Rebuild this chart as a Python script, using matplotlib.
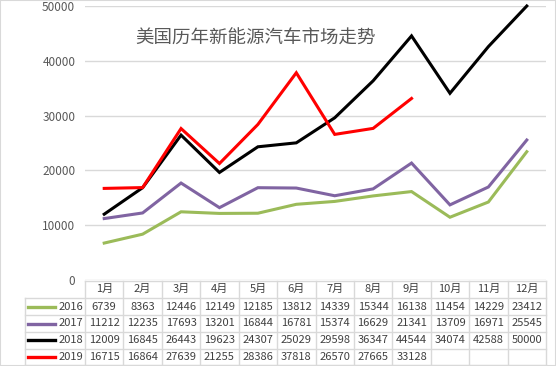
import matplotlib
matplotlib.use("Agg")
import matplotlib.pyplot as plt
from matplotlib.lines import Line2D
from matplotlib.patches import Rectangle

plt.rcParams['font.family'] = ['Noto Sans CJK SC', 'DejaVu Sans']

months = ["1月", "2月", "3月", "4月", "5月", "6月", "7月", "8月", "9月", "10月", "11月", "12月"]
years = ["2016", "2017", "2018", "2019"]
s2016 = [6739, 8363, 12446, 12149, 12185, 13812, 14339, 15344, 16138, 11454, 14229, 23412]
s2017 = [11212, 12235, 17693, 13201, 16844, 16781, 15374, 16629, 21341, 13709, 16971, 25545]
s2018 = [12009, 16845, 26443, 19623, 24307, 25029, 29598, 36347, 44544, 34074, 42588, 50000]
s2019 = [16715, 16864, 27639, 21255, 28386, 37818, 26570, 27665, 33128]
series = [s2016, s2017, s2018, s2019]
colors = ["#9BBB59", "#8064A2", "#000000", "#FF0000"]
title = "美国历年新能源汽车市场走势"
yticks = [0, 10000, 20000, 30000, 40000, 50000]

W, H = 556, 366
fig = plt.figure(figsize=(W / 100, H / 100), dpi=100)

def fx(px):
    return px / W

def fy(py):
    return 1 - py / H

# plot area
left, right, top, bottom = 85, 546, 6, 280
ax = fig.add_axes([fx(left), fy(bottom), fx(right - left), (bottom - top) / H])
ax.set_xlim(0.5, 12.5)
ax.set_ylim(0, 50000)
ax.set_yticks(yticks)
ax.set_yticklabels([str(v) for v in yticks], fontsize=8.5, color="#595959")
ax.set_xticks([])
ax.tick_params(axis='y', length=0, pad=7)
for s in ax.spines.values():
    s.set_visible(False)
ax.grid(axis='y', color="#D9D9D9", linewidth=1)
ax.set_axisbelow(True)
for vals, c in zip(series, colors):
    ax.plot(range(1, len(vals) + 1), vals, color=c, linewidth=2.2,
            solid_joinstyle='miter', clip_on=False)
ax.text(0.37, 0.88, title, transform=ax.transAxes, ha='center', va='center',
        fontsize=13.3, color="#595959")

# data table
tab = fig.add_axes([0, 0, 1, 1])
tab.set_xlim(0, W)
tab.set_ylim(H, 0)
tab.axis('off')
colw = (right - left) / 12
row_y = [280.5, 298, 315, 332, 348.5, 364.5]
grid_c = "#D9D9D9"
# horizontal lines
tab.plot([left, right], [row_y[0], row_y[0]], color=grid_c, lw=1)
for y in row_y[1:]:
    tab.plot([25, right], [y, y], color=grid_c, lw=1)
# vertical lines
tab.plot([25, 25], [row_y[1], row_y[-1]], color=grid_c, lw=1)
for i in range(13):
    x = left + i * colw
    tab.plot([x, x], [row_y[0], row_y[-1]], color=grid_c, lw=1)
# header
fs = 8
for i, m in enumerate(months):
    tab.text(left + (i + 0.5) * colw, (row_y[0] + row_y[1]) / 2, m,
             ha='center', va='center', fontsize=fs, color="#404040")
for r, (yr, vals, c) in enumerate(zip(years, series, colors)):
    yc = (row_y[r + 1] + row_y[r + 2]) / 2
    tab.add_line(Line2D([28, 55], [yc, yc], color=c, lw=2.4))
    tab.text(83, yc, yr, ha='right', va='center', fontsize=fs, color="#404040")
    for i, v in enumerate(vals):
        tab.text(left + (i + 0.5) * colw, yc, str(v), ha='center', va='center',
                 fontsize=fs, color="#404040")

# outer border
fig.patches.append(Rectangle((0, 0), 1, 1, transform=fig.transFigure, fill=False,
                             edgecolor="#D9D9D9", lw=1.5))

fig.savefig("out.png", dpi=100)
